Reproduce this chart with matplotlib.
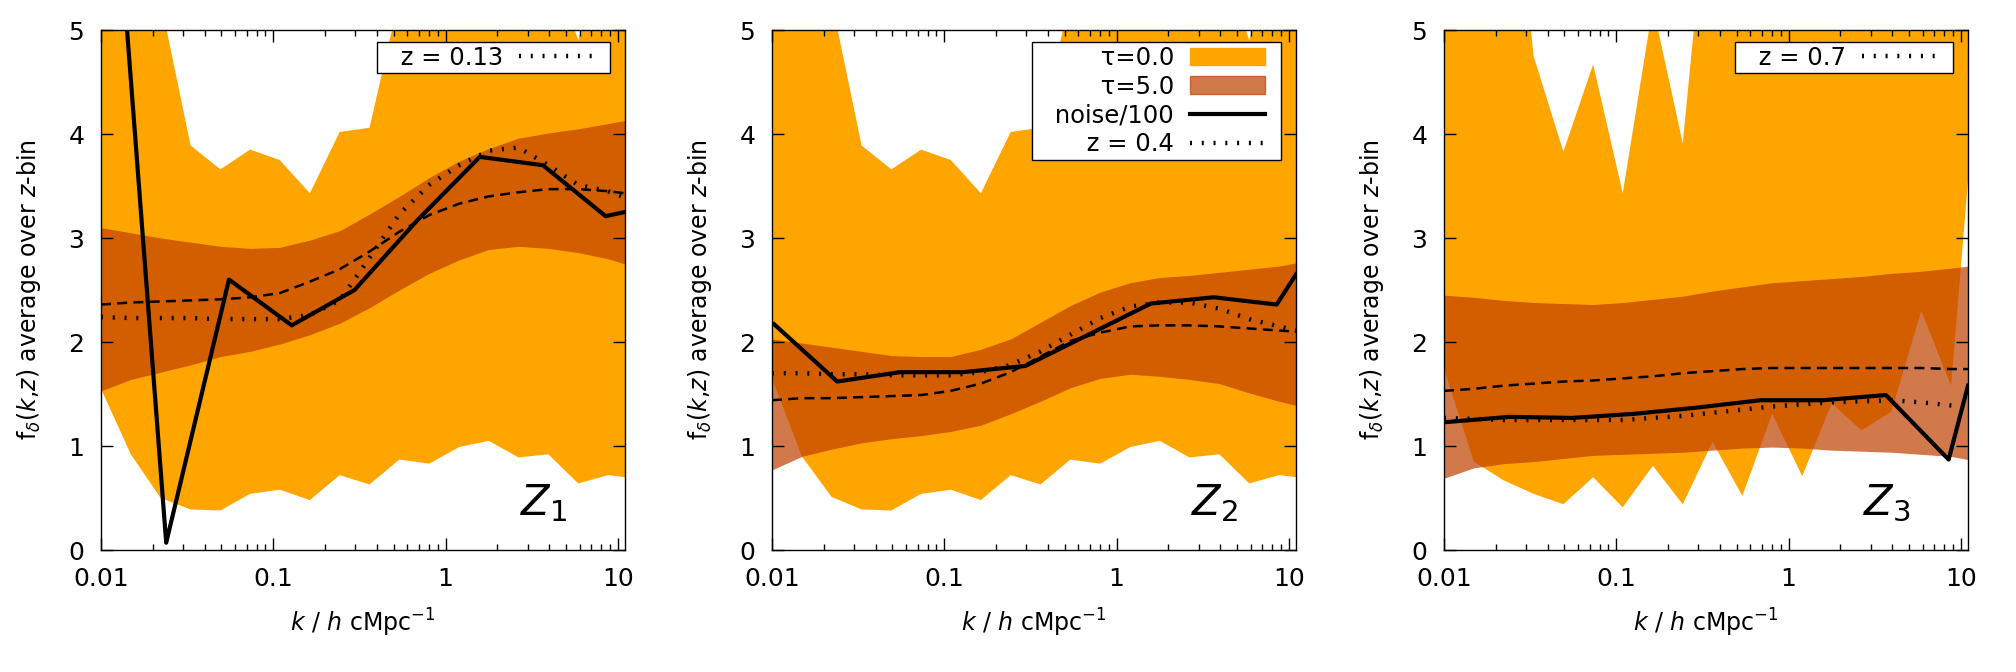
import numpy as np
import matplotlib
matplotlib.use('Agg')
import matplotlib.pyplot as plt
from matplotlib.patches import Patch
from matplotlib.lines import Line2D
from matplotlib.path import Path
from matplotlib.ticker import LogLocator, NullFormatter

# k grid of the bands / model curves, and the coarser grid of the noise curve
k_fine = [0.0100, 0.0149, 0.0222, 0.0331, 0.0493, 0.0734, 0.109, 0.163, 0.243, 0.362,
          0.539, 0.803, 1.20, 1.78, 2.65, 3.95, 5.89, 8.77, 11.0]
k_noise = [0.0103, 0.0239, 0.0553, 0.128, 0.296, 0.685, 1.58, 3.67, 8.49, 11.0]

# panel Z1
tau0_lo_1 = [1.55, 0.92, 0.50, 0.39, 0.38, 0.54, 0.58, 0.48, 0.72, 0.63, 0.87, 0.83, 0.99, 1.05, 0.89, 0.92, 0.64, 0.72, 0.70]
tau0_hi_1 = [7.0, 6.5, 5.28, 3.89, 3.66, 3.85, 3.75, 3.43, 4.02, 4.06, 5.31, 5.6, 5.8, 5.7, 5.6, 5.76, 4.90, 6.05, 6.1]
tau5_lo_1 = [1.53, 1.64, 1.71, 1.78, 1.86, 1.91, 1.98, 2.07, 2.18, 2.33, 2.50, 2.66, 2.79, 2.89, 2.92, 2.90, 2.86, 2.80, 2.75]
tau5_hi_1 = [3.10, 3.05, 3.00, 2.96, 2.92, 2.90, 2.91, 2.98, 3.07, 3.23, 3.40, 3.58, 3.74, 3.86, 3.96, 4.01, 4.05, 4.10, 4.13]
dashed_1 = [2.36, 2.38, 2.39, 2.40, 2.41, 2.43, 2.47, 2.58, 2.70, 2.87, 3.06, 3.22, 3.33, 3.40, 3.44, 3.47, 3.47, 3.45, 3.43]
dotted_1 = [2.24, 2.23, 2.23, 2.23, 2.22, 2.22, 2.22, 2.26, 2.40, 2.81, 3.23, 3.51, 3.70, 3.84, 3.87, 3.70, 3.51, 3.45, 3.39]
noise_1 = [8.0, 0.07, 2.60, 2.16, 2.50, 3.17, 3.78, 3.70, 3.21, 3.25]

# panel Z2
tau0_lo_2 = [1.65, 0.90, 0.51, 0.39, 0.38, 0.54, 0.58, 0.48, 0.72, 0.63, 0.87, 0.83, 0.99, 1.05, 0.89, 0.92, 0.64, 0.72, 0.70]
tau0_hi_2 = [7.0, 6.5, 5.28, 3.89, 3.66, 3.85, 3.75, 3.43, 4.02, 4.06, 5.31, 5.6, 5.8, 5.7, 5.6, 5.76, 4.90, 6.05, 6.1]
tau5_lo_2 = [0.77, 0.90, 0.97, 1.03, 1.07, 1.10, 1.14, 1.20, 1.31, 1.43, 1.56, 1.65, 1.69, 1.67, 1.64, 1.60, 1.51, 1.43, 1.39]
tau5_hi_2 = [2.03, 1.99, 1.95, 1.91, 1.87, 1.86, 1.86, 1.93, 2.03, 2.19, 2.35, 2.48, 2.57, 2.62, 2.64, 2.67, 2.70, 2.73, 2.76]
dashed_2 = [1.44, 1.46, 1.46, 1.47, 1.48, 1.49, 1.53, 1.60, 1.71, 1.86, 2.01, 2.09, 2.15, 2.16, 2.16, 2.15, 2.13, 2.11, 2.10]
dotted_2 = [1.70, 1.70, 1.69, 1.69, 1.68, 1.68, 1.68, 1.71, 1.78, 1.91, 2.07, 2.23, 2.34, 2.38, 2.38, 2.32, 2.22, 2.15, 2.11]
noise_2 = [2.17, 1.62, 1.71, 1.71, 1.77, 2.07, 2.37, 2.43, 2.36, 2.65]

# panel Z3
tau0_lo_3 = [1.74, 0.85, 0.67, 0.54, 0.44, 0.70, 0.41, 0.81, 0.44, 1.04, 0.52, 1.31, 0.71, 1.41, 1.15, 1.33, 2.30, 1.58, 3.55]
tau0_hi_3 = [6.5, 6.8, 7.6, 4.75, 3.83, 4.67, 3.43, 5.23, 3.91, 6.86, 4.98, 6.0, 6.2, 6.0, 6.3, 6.1, 6.0, 6.0, 6.0]
tau5_lo_3 = [0.69, 0.79, 0.83, 0.85, 0.88, 0.91, 0.92, 0.93, 0.94, 0.96, 0.98, 0.99, 0.98, 0.96, 0.95, 0.94, 0.92, 0.90, 0.87]
tau5_hi_3 = [2.45, 2.43, 2.40, 2.38, 2.37, 2.36, 2.38, 2.41, 2.44, 2.49, 2.53, 2.57, 2.59, 2.61, 2.63, 2.66, 2.68, 2.71, 2.73]
dashed_3 = [1.53, 1.55, 1.58, 1.60, 1.62, 1.63, 1.65, 1.67, 1.70, 1.72, 1.74, 1.75, 1.75, 1.75, 1.75, 1.75, 1.75, 1.74, 1.74]
dotted_3 = [1.27, 1.26, 1.25, 1.25, 1.25, 1.25, 1.25, 1.27, 1.29, 1.32, 1.35, 1.38, 1.40, 1.42, 1.43, 1.44, 1.42, 1.39, 1.38]
noise_3 = [1.23, 1.28, 1.27, 1.31, 1.37, 1.44, 1.44, 1.49, 0.87, 1.58]

z_labels = ['z = 0.13', 'z = 0.4', 'z = 0.7']
panel_names = [r'$Z_1$', r'$Z_2$', r'$Z_3$']
xtick_vals = [0.01, 0.1, 1, 10]
xtick_labels = ['0.01', '0.1', '1', '10']

ORANGE = '#FFA500'
DARK = '#C04000'
DOT = dict(color='black', lw=3.2, dashes=(0.45, 2.2))
DASH = dict(color='black', lw=1.8, dashes=(4, 2.5))
SOLID = dict(color='black', lw=3.0)

panels = [
    (tau0_lo_1, tau0_hi_1, tau5_lo_1, tau5_hi_1, dashed_1, dotted_1, noise_1),
    (tau0_lo_2, tau0_hi_2, tau5_lo_2, tau5_hi_2, dashed_2, dotted_2, noise_2),
    (tau0_lo_3, tau0_hi_3, tau5_lo_3, tau5_hi_3, dashed_3, dotted_3, noise_3),
]


def wide_box(x0, y0, width, height, mutation_size):
    # legend frame padded sideways only (gnuplot-like key box)
    p = 0.5 * mutation_size
    return Path([(x0 - p, y0), (x0 + width + p, y0), (x0 + width + p, y0 + height),
                 (x0 - p, y0 + height), (x0 - p, y0)], closed=True)


W, H = 2016, 672
fig = plt.figure(figsize=(W / 100, H / 100), dpi=100)
lefts = [101, 772, 1444]

for i, (t0lo, t0hi, t5lo, t5hi, dsh, dot, noi) in enumerate(panels):
    ax = fig.add_axes([lefts[i] / W, (H - 550) / H, 524 / W, 520 / H])
    ax.fill_between(k_fine, t0lo, t0hi, color=ORANGE, lw=0)
    ax.fill_between(k_fine, t5lo, t5hi, color=DARK, alpha=0.7, lw=0)
    ax.plot(k_fine, dsh, **DASH)
    ax.plot(k_fine, dot, **DOT)
    ax.plot(k_noise, noi, **SOLID)

    ax.set_xscale('log')
    ax.set_xlim(0.01, 11)
    ax.set_ylim(0, 5)
    ax.set_xticks(xtick_vals, xtick_labels)
    ax.xaxis.set_minor_locator(LogLocator(base=10, subs=np.arange(2, 10), numticks=20))
    ax.xaxis.set_minor_formatter(NullFormatter())
    ax.set_yticks([0, 1, 2, 3, 4, 5])
    ax.tick_params(which='both', direction='in', top=True, right=True,
                   labelsize=18, width=1, pad=12)
    ax.tick_params(which='major', length=8.5)
    ax.tick_params(which='minor', length=4.3)
    for s in ax.spines.values():
        s.set_linewidth(1.0)

    ax.set_xlabel(r'$k$ / $h$ cMpc$^{-1}$', fontsize=17)
    ax.set_ylabel(r'f$_\delta$($k$,$z$) average over $z$-bin', fontsize=17)
    ax.xaxis.set_label_coords(0.5, -0.11)
    ax.yaxis.set_label_coords(-0.11, 0.5)

    ax.text(0.80, 0.067, panel_names[i], transform=ax.transAxes,
            fontsize=30, ha='left', va='baseline')

    dot_handle = Line2D([], [], **DOT)
    if i == 1:
        handles = [Patch(facecolor=ORANGE, edgecolor=ORANGE),
                   Patch(facecolor=DARK, edgecolor=DARK, alpha=0.7),
                   Line2D([], [], **SOLID), dot_handle]
        labels = [' τ=0.0', ' τ=5.0', ' noise/100', ' ' + z_labels[i]]
    else:
        handles = [dot_handle]
        labels = [' ' + z_labels[i]]
    leg = ax.legend(handles, labels, loc='upper right',
                    bbox_to_anchor=(1 - 27 / 524, 1 - 12 / 520), borderaxespad=0,
                    markerfirst=False, fontsize=17.5, handlelength=3.1,
                    handletextpad=0.65, labelspacing=0.2, borderpad=0.15,
                    fancybox=False, framealpha=1, edgecolor='black')
    leg.get_frame().set_linewidth(1.0)
    leg.get_frame().set_boxstyle(wide_box)

fig.savefig('out.png', dpi=100)
